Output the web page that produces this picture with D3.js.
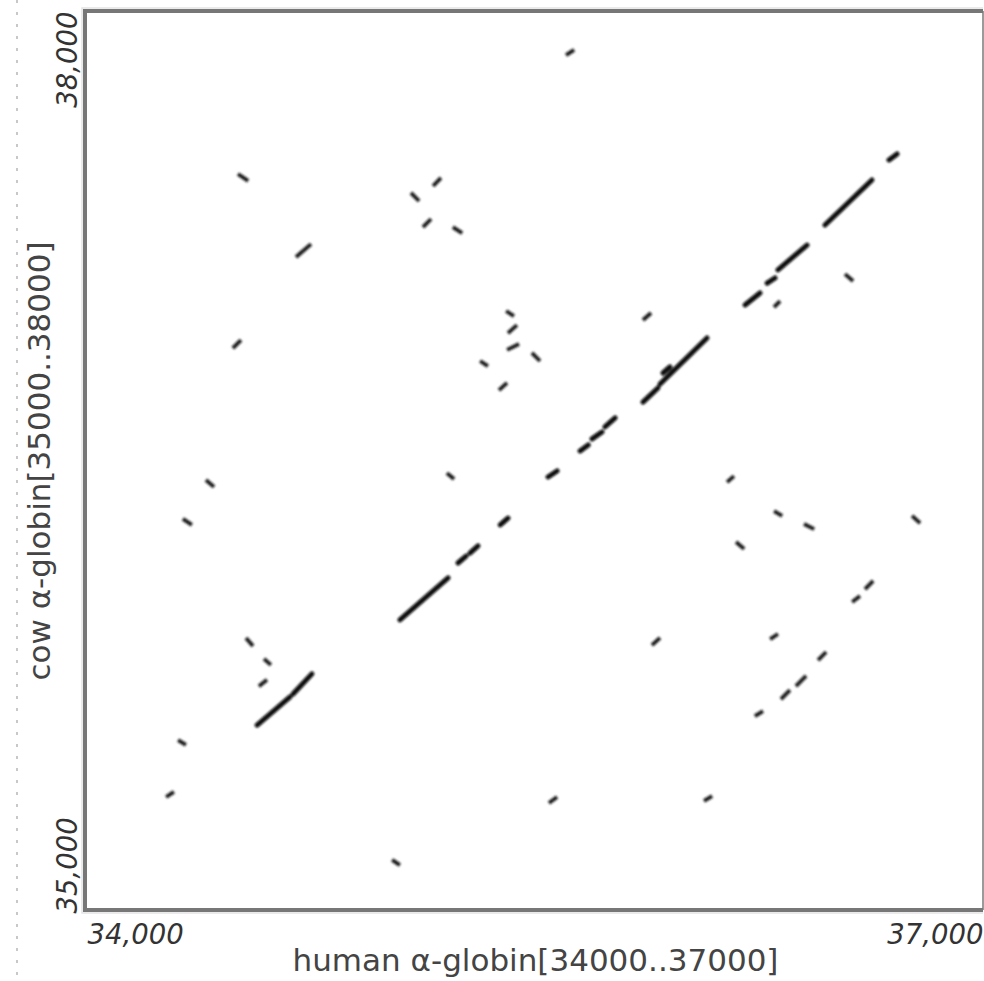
<!DOCTYPE html>
<html>
<head>
<meta charset="utf-8">
<script src="https://cdn.jsdelivr.net/npm/d3@7"></script>
<style>
  html, body { margin: 0; padding: 0; background: #fff; }
  svg { display: block; }
</style>
</head>
<body>
<svg id="chart"></svg>
<script>
// dot plot: human vs cow alpha-globin region
let xDomain = [34000, 37000];
let yDomain = [35000, 38000];
let xTicks = [34000, 37000];
let yTicks = [35000, 38000];
let xTitle = "human \u03b1-globin[34000..37000]";
let yTitle = "cow \u03b1-globin[35000..38000]";

// hits along the main diagonal [x1, y1, x2, y2]
let diagonalHits = [
  [34575, 35617, 34685, 35711],
  [34695, 35721, 34758, 35788],
  [35052, 35968, 35213, 36108],
  [35246, 36158, 35273, 36181],
  [35286, 36191, 35313, 36215],
  [35387, 36285, 35413, 36308],
  [35547, 36445, 35577, 36465],
  [35654, 36532, 35681, 36552],
  [35694, 36572, 35727, 36595],
  [35737, 36612, 35771, 36642],
  [35864, 36695, 35914, 36742],
  [35921, 36755, 36078, 36909],
  [35931, 36792, 35954, 36812],
  [36205, 37019, 36255, 37059],
  [36279, 37092, 36305, 37109],
  [36315, 37136, 36412, 37219],
  [36472, 37286, 36629, 37436],
  [36686, 37503, 36713, 37523]
];

// short scattered hits [x1, y1, x2, y2]
let scatteredHits = [
  [35607, 37853, 35634, 37870],
  [34511, 37456, 34545, 37433],
  [35163, 37416, 35189, 37443],
  [35089, 37393, 35116, 37366],
  [35129, 37279, 35156, 37306],
  [35229, 37279, 35260, 37259],
  [34705, 37179, 34755, 37222],
  [34494, 36875, 34521, 36902],
  [35407, 36999, 35433, 36982],
  [35413, 36925, 35443, 36952],
  [35410, 36869, 35450, 36889],
  [35493, 36859, 35520, 36832],
  [35320, 36832, 35346, 36815],
  [35383, 36735, 35410, 36759],
  [35864, 36969, 35891, 36992],
  [36302, 37012, 36322, 37032],
  [36539, 37122, 36566, 37099],
  [36145, 36428, 36168, 36448],
  [36302, 36331, 36329, 36315],
  [36402, 36288, 36436, 36271],
  [36763, 36315, 36790, 36291],
  [36175, 36228, 36202, 36205],
  [36606, 36071, 36633, 36098],
  [36563, 36028, 36589, 36048],
  [35894, 35884, 35921, 35908],
  [36289, 35904, 36315, 35921],
  [36449, 35834, 36476, 35861],
  [36375, 35747, 36409, 35781],
  [36325, 35704, 36355, 35734],
  [36238, 35647, 36265, 35664],
  [35550, 35357, 35577, 35377],
  [36068, 35364, 36095, 35380],
  [34404, 36435, 34431, 36412],
  [34327, 36305, 34357, 36285],
  [35209, 36458, 35233, 36438],
  [34538, 35908, 34561, 35881],
  [34598, 35838, 34621, 35818],
  [34581, 35747, 34608, 35768],
  [34311, 35567, 34337, 35551],
  [34271, 35377, 34297, 35394],
  [35026, 35167, 35052, 35150]
];

let width = 984;
let height = 981;
let margin = {top: 11, right: 1, bottom: 71, left: 85};

let svg = d3.select("#chart")
  .attr("width", width)
  .attr("height", height);

let defs = svg.append("defs");
defs.append("filter").attr("id", "soft")
  .attr("x", "-20%").attr("y", "-20%").attr("width", "140%").attr("height", "140%")
  .append("feGaussianBlur").attr("stdDeviation", 1);

let x = d3.scaleLinear().domain(xDomain).range([margin.left, width - margin.right]);
let y = d3.scaleLinear().domain(yDomain).range([height - margin.bottom, margin.top]);

// dotted guide at far left
svg.append("line")
  .attr("x1", 17).attr("x2", 17)
  .attr("y1", 0).attr("y2", height)
  .attr("stroke", "#c8c8c8")
  .attr("stroke-width", 2)
  .attr("stroke-dasharray", "3,9");

// hits
let hits = svg.append("g").attr("filter", "url(#soft)");

hits.selectAll("line.diag")
  .data(diagonalHits)
  .enter().append("line")
  .attr("class", "diag")
  .attr("x1", d => x(d[0])).attr("y1", d => y(d[1]))
  .attr("x2", d => x(d[2])).attr("y2", d => y(d[3]))
  .attr("stroke", "#0a0a0a")
  .attr("stroke-width", 5)
  .attr("stroke-linecap", "round");

hits.selectAll("line.spot")
  .data(scatteredHits)
  .enter().append("line")
  .attr("class", "spot")
  .attr("x1", d => x(d[0])).attr("y1", d => y(d[1]))
  .attr("x2", d => x(d[2])).attr("y2", d => y(d[3]))
  .attr("stroke", "#1a1a1a")
  .attr("stroke-width", 3.8)
  .attr("stroke-linecap", "butt");

// frame
let x0 = x(xDomain[0]), x1 = x(xDomain[1]);
let y0 = y(yDomain[0]), y1 = y(yDomain[1]);

svg.append("line")
  .attr("x1", x1).attr("x2", x1).attr("y1", y1).attr("y2", y0)
  .attr("stroke", "#9a9a9a").attr("stroke-width", 2);

svg.append("path")
  .attr("d", `M${x1},${y1}H${x0}V${y0}H${x1}`)
  .attr("fill", "none")
  .attr("stroke", "#777")
  .attr("stroke-width", 4);

svg.append("path")
  .attr("d", `M${x1},${y1 - 3}H${x0 - 3}V${y0 + 3}H${x1}`)
  .attr("fill", "none")
  .attr("stroke", "#e4e4e4")
  .attr("stroke-width", 1.5);

let fmt = d3.format(",");

// x axis tick labels
let xAxis = svg.append("g")
  .attr("transform", `translate(0,${y0})`)
  .call(d3.axisBottom(x).tickValues(xTicks).tickSize(0).tickFormat(fmt));
xAxis.select(".domain").remove();
xAxis.selectAll("text")
  .attr("y", 34)
  .attr("dy", null)
  .attr("dx", (d, i) => i === 0 ? 2 : 0)
  .attr("text-anchor", (d, i) => i === 0 ? "start" : "end")
  .attr("font-family", "'DejaVu Sans', sans-serif")
  .attr("font-style", "italic")
  .attr("font-size", 27.5)
  .attr("fill", "#333");

// y axis tick labels (rotated)
let yAxis = svg.append("g")
  .attr("transform", `translate(${x0},0)`)
  .call(d3.axisLeft(y).tickValues(yTicks).tickSize(0).tickFormat(fmt));
yAxis.select(".domain").remove();
yAxis.selectAll(".tick text")
  .attr("x", null).attr("dy", null)
  .attr("transform", "translate(-8,0) rotate(-90)")
  .attr("dx", (d, i) => i === 0 ? -3 : 0)
  .attr("text-anchor", (d, i) => i === 0 ? "start" : "end")
  .attr("font-family", "'DejaVu Sans', sans-serif")
  .attr("font-style", "italic")
  .attr("font-size", 27.5)
  .attr("fill", "#333");

// axis titles
svg.append("text")
  .attr("x", 535.5)
  .attr("y", 971)
  .attr("text-anchor", "middle")
  .attr("font-family", "'DejaVu Sans', sans-serif")
  .attr("font-size", 31)
  .attr("fill", "#444")
  .text(xTitle);

svg.append("text")
  .attr("transform", "translate(50,461) rotate(-90)")
  .attr("text-anchor", "middle")
  .attr("font-family", "'DejaVu Sans', sans-serif")
  .attr("font-size", 31)
  .attr("fill", "#444")
  .text(yTitle);
</script>
</body>
</html>
